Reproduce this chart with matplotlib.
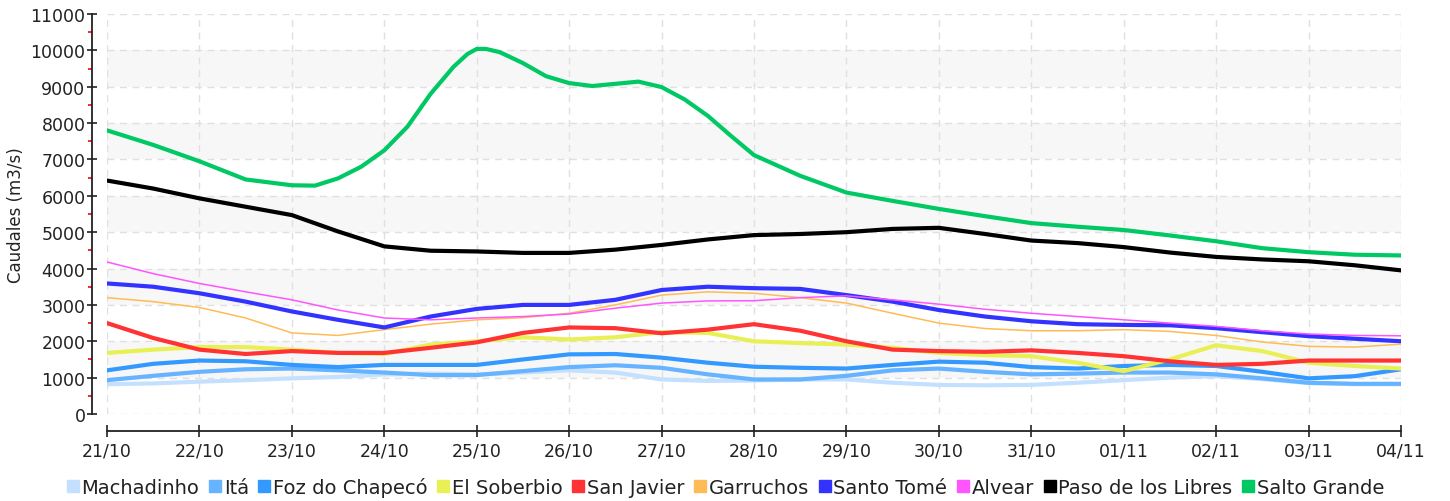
import matplotlib
matplotlib.use("Agg")
import matplotlib.pyplot as plt
from matplotlib.lines import Line2D
from matplotlib.ticker import MultipleLocator

# ---------------- data ----------------
day_labels = ["21/10", "22/10", "23/10", "24/10", "25/10", "26/10", "27/10",
              "28/10", "29/10", "30/10", "31/10", "01/11", "02/11", "03/11", "04/11"]

days = [0, 0.5, 1, 1.5, 2, 2.5, 3, 3.5, 4, 4.5, 5, 5.5, 6, 6.5, 7,
        7.5, 8, 8.5, 9, 9.5, 10, 10.5, 11, 11.5, 12, 12.5, 13, 13.5, 14]

machadinho = [820, 840, 890, 930, 980, 1020, 1090, 1110, 1090, 1140, 1200, 1140, 950, 910, 920,
              950, 950, 860, 800, 790, 800, 860, 930, 1000, 1040, 960, 850, 820, 820]
ita = [930, 1050, 1160, 1230, 1250, 1200, 1140, 1070, 1070, 1180, 1290, 1340, 1270, 1090, 950,
       950, 1050, 1200, 1250, 1160, 1090, 1110, 1140, 1140, 1090, 980, 860, 830, 830]
foz_chapeco = [1200, 1380, 1470, 1450, 1350, 1290, 1350, 1350, 1350, 1500, 1640, 1650, 1550, 1410, 1300,
               1270, 1250, 1350, 1440, 1410, 1290, 1250, 1320, 1350, 1320, 1160, 980, 1040, 1230]
el_soberbio = [1680, 1770, 1840, 1840, 1770, 1680, 1650, 1910, 2000, 2110, 2050, 2110, 2250, 2230, 2000,
               1950, 1910, 1820, 1680, 1620, 1590, 1410, 1180, 1500, 1890, 1730, 1410, 1320, 1250]
san_javier = [2500, 2090, 1770, 1650, 1730, 1680, 1680, 1820, 1970, 2230, 2380, 2360, 2220, 2320, 2470,
              2290, 2000, 1770, 1730, 1710, 1750, 1680, 1590, 1450, 1350, 1380, 1470, 1470, 1470]
garruchos = [3200, 3090, 2930, 2640, 2230, 2160, 2320, 2470, 2590, 2650, 2770, 3000, 3270, 3360, 3320,
             3200, 3050, 2770, 2500, 2350, 2290, 2290, 2320, 2270, 2160, 1980, 1860, 1840, 1920]
santo_tome = [3590, 3500, 3320, 3090, 2820, 2590, 2380, 2680, 2890, 3000, 3000, 3140, 3410, 3500, 3460,
              3440, 3270, 3090, 2860, 2680, 2550, 2470, 2450, 2440, 2360, 2250, 2140, 2070, 2000]
alvear = [4180, 3860, 3590, 3360, 3140, 2860, 2640, 2590, 2640, 2680, 2750, 2910, 3050, 3110, 3115,
          3200, 3250, 3140, 3020, 2880, 2770, 2680, 2590, 2500, 2410, 2290, 2200, 2160, 2150]
paso_libres = [6420, 6200, 5930, 5700, 5470, 5020, 4610, 4490, 4470, 4430, 4430, 4520, 4650, 4800, 4920,
               4950, 5000, 5090, 5120, 4950, 4770, 4700, 4590, 4440, 4320, 4250, 4200, 4090, 3950]

days_sg = [0, 0.5, 1, 1.5, 2, 2.25, 2.5, 2.75, 3, 3.25, 3.5, 3.75, 3.9, 4, 4.1, 4.25, 4.5, 4.75, 5,
           5.25, 5.5, 5.75, 6, 6.25, 6.5, 6.75, 7, 7.5, 8, 8.5, 9, 9.5, 10, 10.5, 11, 11.5, 12,
           12.5, 13, 13.5, 14]
salto_grande = [7800, 7400, 6950, 6450, 6290, 6280, 6480, 6800, 7250, 7900, 8800, 9550, 9900, 10040,
                10040, 9950, 9650, 9290, 9100, 9020, 9080, 9140, 8990, 8650, 8200, 7650, 7120,
                6550, 6090, 5860, 5640, 5440, 5250, 5150, 5060, 4910, 4750, 4560, 4450, 4380, 4360]

series_names = ["Machadinho", "Itá", "Foz do Chapecó", "El Soberbio", "San Javier",
                "Garruchos", "Santo Tomé", "Alvear", "Paso de los Libres", "Salto Grande"]
series_colors = ["#c4e0ff", "#66b3ff", "#3399ff", "#e8f055", "#ff3333",
                 "#ffbb55", "#3333ff", "#ff55ff", "#000000", "#00c864"]
series_widths = [3.0, 3.0, 3.0, 3.0, 3.0, 1.1, 3.0, 1.1, 3.0, 3.0]

# ---------------- figure ----------------
plt.rcParams['font.family'] = ['DejaVu Sans']
W, H = 1450, 502
fig = plt.figure(figsize=(W / 100, H / 100), dpi=100)
ax = fig.add_axes([107 / W, (H - 415) / H, (1401 - 107) / W, (415 - 15) / H])

ymax = 11000
ax.set_xlim(0, 14)
ax.set_ylim(0, ymax)

# alternating bands
for lo in range(1000, ymax, 2000):
    ax.axhspan(lo, lo + 1000, color="#f7f7f7", zorder=0, lw=0)

# grid
for v in range(0, ymax + 1, 1000):
    ax.axhline(v, color="#e0e0e0", lw=1, ls=(0, (5, 4)), zorder=1)
for d in range(0, 15):
    ax.axvline(d, color="#e0e0e0", lw=1, ls=(0, (5, 4)), zorder=1)

all_y = [machadinho, ita, foz_chapeco, el_soberbio, san_javier, garruchos,
         santo_tome, alvear, paso_libres, salto_grande]
for i, (name, col, lw, ys) in enumerate(zip(series_names, series_colors, series_widths, all_y)):
    xs = days_sg if name == "Salto Grande" else days
    ax.plot(xs, ys, color=col, lw=lw, solid_capstyle="round", solid_joinstyle="round", zorder=3 + i)

# spines
for s in ["top", "right"]:
    ax.spines[s].set_visible(False)
ax.spines["left"].set_position(("outward", 11))
ax.spines["bottom"].set_position(("outward", 12))
ax.spines["left"].set_bounds(0, ymax)
ax.spines["bottom"].set_bounds(0, 14)
ax.spines["left"].set_color("#222222")
ax.spines["bottom"].set_color("#222222")
ax.spines["left"].set_linewidth(1.3)
ax.spines["bottom"].set_linewidth(1.3)

ax.set_xticks(range(15))
ax.set_xticklabels(day_labels)
ax.yaxis.set_major_locator(MultipleLocator(1000))
ax.yaxis.set_minor_locator(MultipleLocator(500))
ax.tick_params(axis="y", which="major", direction="inout", length=7, width=1.2,
               color="#222222", labelsize=12.5, labelcolor="#222222", pad=1)
ax.tick_params(axis="y", which="minor", direction="out", length=3, width=1.2, color="red")
ax.tick_params(axis="x", which="major", direction="inout", length=9, width=1.2,
               color="#222222", labelsize=12.5, labelcolor="#222222", pad=3)
ax.set_ylabel("Caudales (m3/s)", fontsize=12, color="#222222", labelpad=4)

# legend
handles = [Line2D([], [], marker="s", ls="none", markersize=9, markerfacecolor=c,
                  markeredgecolor=c) for c in series_colors]
fig.legend(handles, series_names, loc="center", bbox_to_anchor=(0.5, 1 - 488 / H),
           ncol=10, frameon=False, fontsize=14, handlelength=0.7, handletextpad=0.1,
           columnspacing=0.45, borderaxespad=0, labelcolor="#222222")

fig.savefig("out.png", dpi=100)
